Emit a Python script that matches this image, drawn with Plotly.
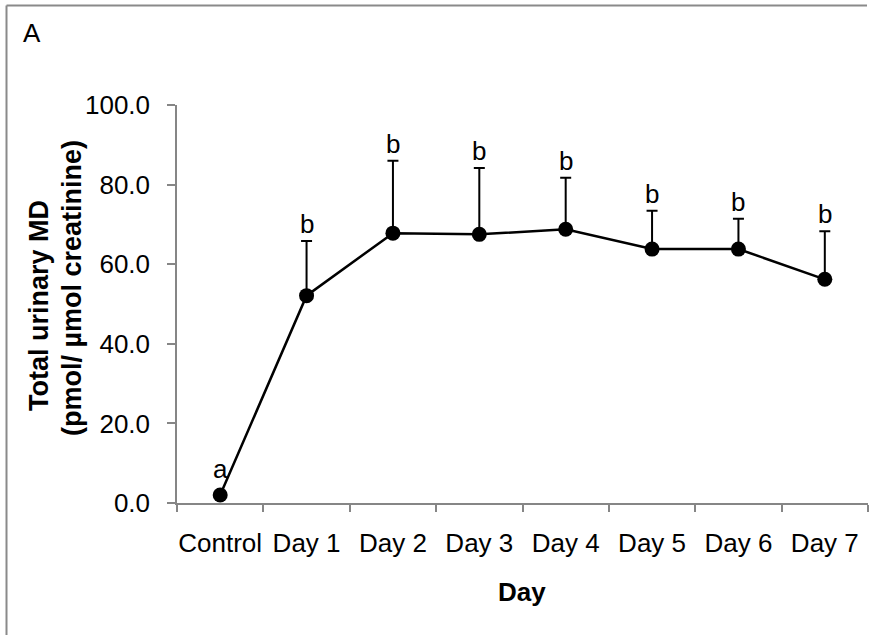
import plotly.graph_objects as go

# ---- data ----
categories = ["Control", "Day 1", "Day 2", "Day 3", "Day 4", "Day 5", "Day 6", "Day 7"]
mean_md = [2.0, 52.1, 67.8, 67.5, 68.8, 63.8, 63.8, 56.2]
sd_md = [0.0, 13.7, 18.2, 16.7, 12.9, 9.6, 7.6, 12.1]
sig_letters = ["a", "b", "b", "b", "b", "b", "b", "b"]
y_ticks = [0, 20, 40, 60, 80, 100]
y_title_lines = ["Total urinary MD", "(pmol/ µmol creatinine)"]
x_title = "Day"
panel_label = "A"

W, H = 870, 635
L, R, T, B = 177, 2, 105, 132
FONT = "Liberation Sans, Arial, sans-serif"
AXC = "#868686"
FS = 26

fig = go.Figure()
fig.add_trace(go.Scatter(
    x=categories, y=mean_md, mode="lines+markers",
    line=dict(color="black", width=2.5),
    marker=dict(color="black", size=15),
    error_y=dict(type="data", symmetric=False, array=sd_md,
                 arrayminus=[0] * len(sd_md), color="black",
                 thickness=2, width=5.5),
    cliponaxis=False, showlegend=False,
))

annotations = []
for c, m, s, lab in zip(categories, mean_md, sd_md, sig_letters):
    top = m + s
    shift = 17 if s > 0 else 26
    annotations.append(dict(x=c, y=top, xref="x", yref="y", text=lab,
                            showarrow=False, yanchor="middle", yshift=shift,
                            font=dict(family=FONT, size=FS, color="black")))

pw = W - L - R
ph = H - T - B
def px(xp):
    return (xp - L) / pw
def py(yp):
    return (H - B - yp) / ph

for txt, cx, cy in zip(y_title_lines, [39, 72], [306, 288]):
    annotations.append(dict(x=px(cx), y=py(cy), xref="paper", yref="paper",
                            text=f"<b>{txt}</b>", textangle=-90, showarrow=False,
                            xanchor="center", yanchor="middle",
                            font=dict(family=FONT, size=27, color="black")))
annotations.append(dict(x=px(522), y=py(592), xref="paper", yref="paper",
                        text=f"<b>{x_title}</b>", showarrow=False,
                        xanchor="center", yanchor="middle",
                        font=dict(family=FONT, size=FS, color="black")))
annotations.append(dict(x=px(21), y=py(33), xref="paper", yref="paper",
                        text=panel_label, showarrow=False,
                        xanchor="left", yanchor="middle",
                        font=dict(family=FONT, size=FS, color="black")))

shapes = [
    dict(type="line", xref="paper", yref="paper", x0=px(6.5), x1=px(867), y0=py(5.5), y1=py(5.5),
         line=dict(color="#8a8a8a", width=2)),
    dict(type="line", xref="paper", yref="paper", x0=px(6.5), x1=px(6.5), y0=py(5.5), y1=py(635),
         line=dict(color="#8a8a8a", width=2)),
]

fig.update_layout(
    width=W, height=H,
    margin=dict(l=L, r=R, t=T, b=B, pad=0),
    paper_bgcolor="white", plot_bgcolor="white",
    font=dict(family=FONT, size=FS, color="black"),
    annotations=annotations, shapes=shapes,
    xaxis=dict(type="category", range=[-0.5, len(categories) - 0.5],
               tickson="boundaries", ticks="outside", ticklen=7, tickwidth=1.5,
               tickcolor=AXC, showline=True, linecolor=AXC, linewidth=1.5,
               showgrid=False, zeroline=False, tickangle=0, ticklabelstandoff=16,
               tickfont=dict(family=FONT, size=FS, color="black")),
    yaxis=dict(range=[0, 100], tickvals=y_ticks, tickformat=".1f",
               ticks="outside", ticklen=8, tickwidth=1.5, tickcolor=AXC,
               showline=True, linecolor=AXC, linewidth=1.5,
               showgrid=False, zeroline=False, ticklabelstandoff=12,
               tickfont=dict(family=FONT, size=FS, color="black")),
)

fig.write_html("out.html", config={"displayModeBar": False},
               post_script="document.body.style.margin='0';document.body.style.overflow='hidden';")
